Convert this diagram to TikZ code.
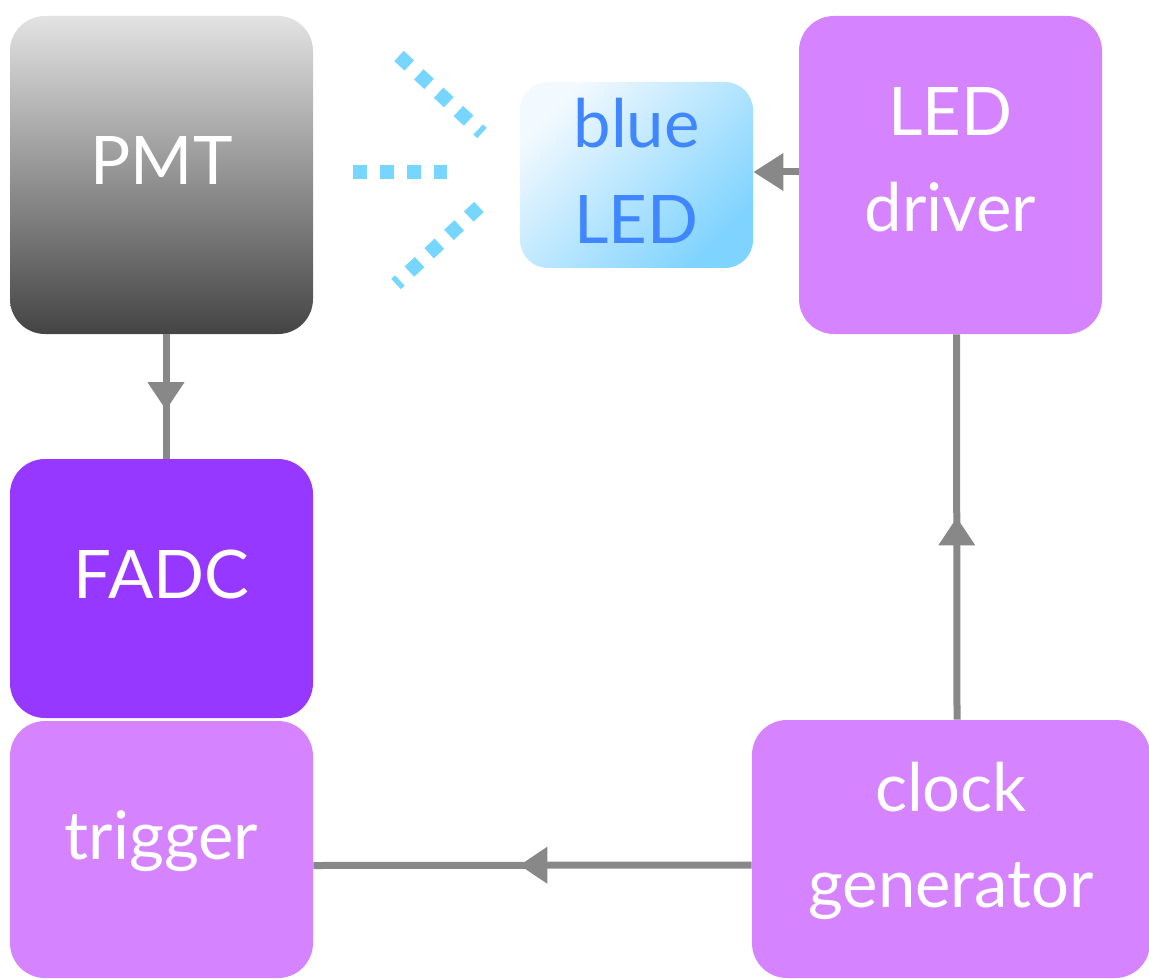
\documentclass[tikz,border=0pt]{standalone}
\usepackage{fontspec}
\setmainfont{Lato}
\usetikzlibrary{arrows.meta,decorations.markings}
\definecolor{boxpurple}{HTML}{D583FF}
\definecolor{adcpurple}{HTML}{9638FF}
\definecolor{wiregray}{HTML}{888888}
\definecolor{rayblue}{HTML}{76D6FF}
\definecolor{ledtext}{HTML}{3F86FF}
\definecolor{ledlight}{HTML}{F2F9FF}
\definecolor{leddark}{HTML}{7FD3FF}
\definecolor{pmttop}{HTML}{E3E3E3}
\definecolor{pmtbottom}{HTML}{444444}
\tikzset{
  box/.style={rectangle, rounded corners=17.5pt, inner sep=0pt, text=white, align=center,
    font=\fontsize{33.5}{48}\selectfont, text height=24pt, text depth=14pt},
  twolines/.style={text height=72pt, text depth=#1},
  wire/.style={draw=wiregray, line width=3.5pt},
  midarrow/.style={postaction={decorate}, decoration={markings,
    mark=at position #1 with {\arrow{Triangle[length=14pt,width=17.5pt]}}}},
  ray/.style={draw=rayblue, line width=7pt, dash pattern=on 7pt off 6.5pt}
}
\begin{document}
\begin{tikzpicture}[x=0.5pt,y=-0.5pt]
	\useasboundingbox (0,0) rectangle (1149,978);
	\node[box, top color=pmttop, bottom color=pmtbottom, minimum width=151.5pt, minimum height=159pt] (pmt) at (161.5,175) {PMT};
	\node[box, fill=adcpurple, minimum width=151.5pt, minimum height=129.5pt] (fadc) at (161.5,588.5) {FADC};
	\node[box, fill=boxpurple, minimum width=151.5pt, minimum height=128.5pt] (trig) at (161.5,849.5) {trigger};
	\node[box, fill=boxpurple, minimum width=151.5pt, minimum height=159pt, twolines=15pt] (drv) at (950.5,175) {LED\\driver};
	\node[box, top color=ledlight, bottom color=leddark, shading angle=45, text=ledtext, rounded corners=14pt,
	  minimum width=116.5pt, minimum height=93pt, twolines=3pt] (led) at (636.5,175) {blue\\LED};
	\node[box, fill=boxpurple, minimum width=199pt, minimum height=129pt, twolines=14pt] (clk) at (951,849) {clock\\generator};

	\draw[ray] (353,172) -- (447,172);
	\draw[ray] (399,56) -- (482,133);
	\draw[ray] (479,207) -- (396,284);

	\draw[wire, midarrow=0.61] ([xshift=2.25pt]pmt.south) -- ([xshift=2.25pt]fadc.north);
	\draw[wire, midarrow=0.525] ([xshift=3pt]clk.north) -- ([xshift=3pt]drv.south);
	\draw[wire, midarrow=0.53] ([yshift=-8pt]clk.west) -- ([yshift=-8pt]trig.east);
	\draw[wire, -{Triangle[length=15pt,width=18pt]}] ([yshift=1.5pt]drv.west) -- ([yshift=1.5pt]led.east);
\end{tikzpicture}
\end{document}
